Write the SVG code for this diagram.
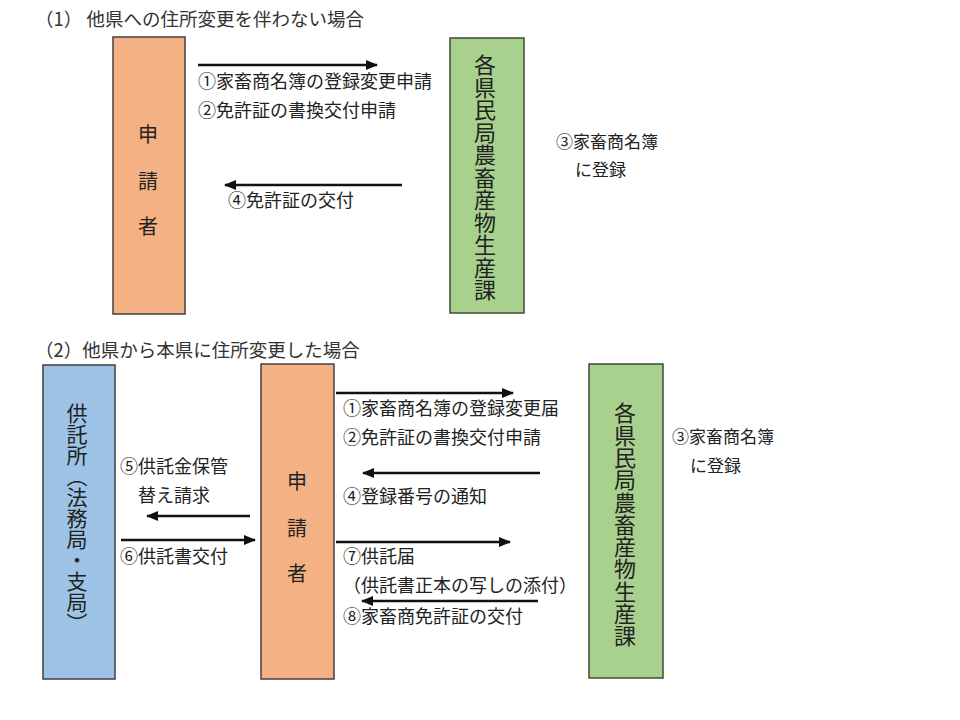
<svg xmlns="http://www.w3.org/2000/svg" width="960" height="720" viewBox="0 0 960 720">
<defs>
<marker id="ah" markerUnits="userSpaceOnUse" markerWidth="12" markerHeight="10" refX="11" refY="5" orient="auto">
<path d="M0,0 L12,5 L0,10 Z" fill="#111"/>
</marker>
<style>
.t{font-family:"Noto Sans CJK JP","Noto Sans",sans-serif;fill:#222;font-size:18px}
.h{font-family:"Noto Sans CJK JP","Noto Sans",sans-serif;fill:#333;font-size:18.5px}
.v{font-family:"Noto Sans CJK JP","Noto Sans",sans-serif;fill:#222;writing-mode:vertical-rl}
.c{font-family:"Noto Sans CJK JP","Noto Sans",sans-serif;fill:#222;font-size:20px;text-anchor:middle;dominant-baseline:central}
.ap{fill:#F4B183;stroke:#404040;stroke-width:1.5}
.gr{fill:#A9D18E;stroke:#3f4a3a;stroke-width:1.5}
.bl{fill:#9DC3E6;stroke:#404040;stroke-width:1.5}
.ar{stroke:#111;stroke-width:2.5;fill:none;marker-end:url(#ah)}
</style>
</defs>
<rect width="960" height="720" fill="#fff"/>
<text class="h" x="35" y="26">（1） 他県への住所変更を伴わない場合</text>
<text class="h" x="35" y="357">（2）他県から本県に住所変更した場合</text>

<g id="applicant1">
<rect class="ap" x="113" y="37" width="72" height="277"/>
<text class="c" x="148" y="133">申</text>
<text class="c" x="148" y="180">請</text>
<text class="c" x="148" y="225">者</text>
</g>
<g id="office1">
<rect class="gr" x="450" y="38" width="74" height="275"/>
<text class="v" x="485" y="54" style="font-size:22px;letter-spacing:0.5px">各県民局農畜産物生産課</text>
</g>
<g id="note1">
<text class="t" x="556" y="148" style="font-size:17px">③家畜商名簿</text>
<text class="t" x="575" y="176" style="font-size:17px">に登録</text>
</g>

<g id="depository">
<rect class="bl" x="43" y="365" width="72" height="314"/>
<text class="v" x="77" y="403" style="font-size:21px">供託所（法務局・支局）</text>
</g>
<g id="applicant2">
<rect class="ap" x="261" y="364" width="73" height="315"/>
<text class="c" x="297" y="480">申</text>
<text class="c" x="297" y="527">請</text>
<text class="c" x="297" y="572">者</text>
</g>
<g id="office2">
<rect class="gr" x="589" y="364" width="74" height="314"/>
<text class="v" x="625" y="402" style="font-size:22px;letter-spacing:0.3px">各県民局農畜産物生産課</text>
</g>
<g id="note2">
<text class="t" x="672" y="443" style="font-size:17px">③家畜商名簿</text>
<text class="t" x="690" y="472" style="font-size:17px">に登録</text>
</g>

<g id="connectors">
<line class="ar" x1="198" y1="65" x2="377" y2="65"/>
<line class="ar" x1="402" y1="185" x2="225" y2="185"/>
<line class="ar" x1="336" y1="393" x2="513" y2="393"/>
<line class="ar" x1="540" y1="473" x2="363" y2="473"/>
<line class="ar" x1="336" y1="542" x2="510" y2="542"/>
<line class="ar" x1="538" y1="601" x2="362" y2="601"/>
<line class="ar" x1="250" y1="516" x2="147" y2="516"/>
<line class="ar" x1="121" y1="540" x2="255" y2="540"/>
</g>

<g id="labels">
<text class="t" x="198" y="88">①家畜商名簿の登録変更申請</text>
<text class="t" x="198" y="117">②免許証の書換交付申請</text>
<text class="t" x="228" y="207">④免許証の交付</text>
<text class="t" x="343" y="415">①家畜商名簿の登録変更届</text>
<text class="t" x="343" y="444">②免許証の書換交付申請</text>
<text class="t" x="343" y="503">④登録番号の通知</text>
<text class="t" x="343" y="563">⑦供託届</text>
<text class="t" x="343" y="592">（供託書正本の写しの添付）</text>
<text class="t" x="343" y="623">⑧家畜商免許証の交付</text>
<text class="t" x="120" y="473">⑤供託金保管</text>
<text class="t" x="138" y="502">替え請求</text>
<text class="t" x="120" y="563">⑥供託書交付</text>
</g>
</svg>
